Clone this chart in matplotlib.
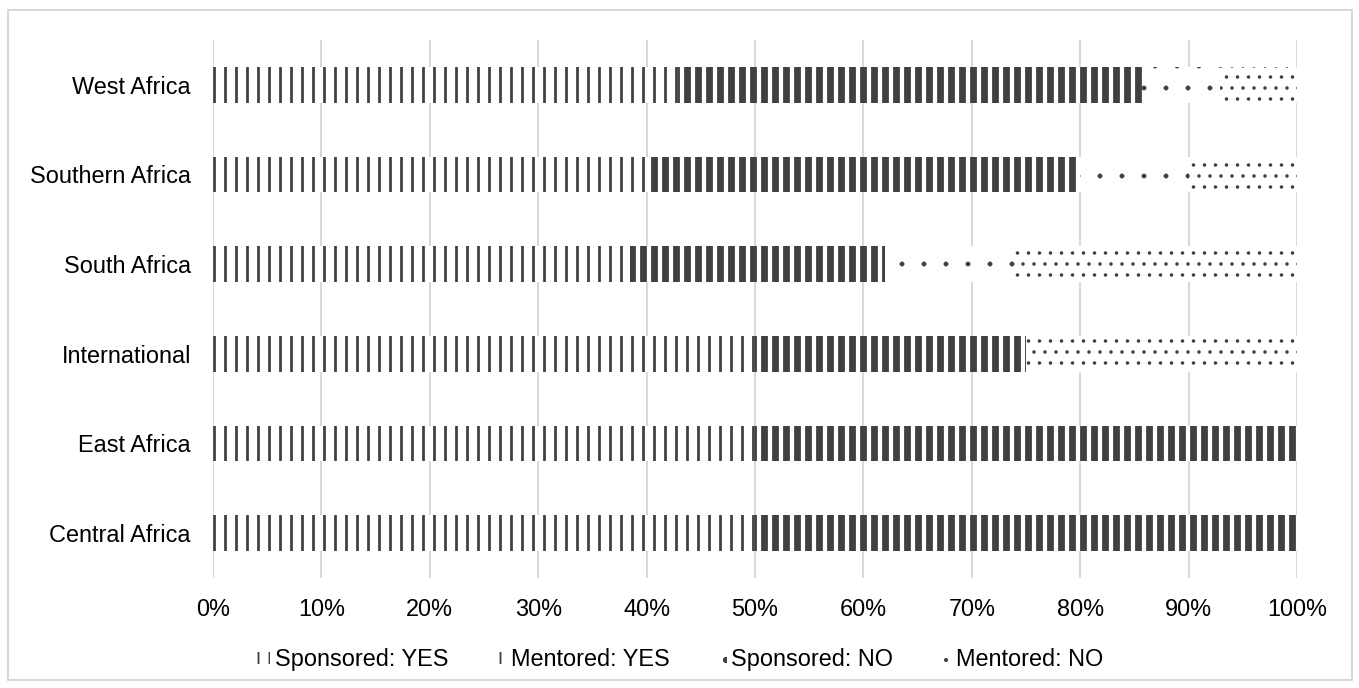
import matplotlib
matplotlib.use("Agg")
import matplotlib.pyplot as plt
from matplotlib.patches import Rectangle

plt.rcParams['font.family'] = ['Liberation Sans', 'DejaVu Sans']
plt.rcParams['font.size'] = 12.8

# regions, bottom to top
regions = ['Central Africa', 'East Africa', 'International',
           'South Africa', 'Southern Africa', 'West Africa']

# share of responses (%)
sponsored_yes = [50.0, 50.0, 50.0, 38.5, 40.0, 42.86]
mentored_yes = [50.0, 50.0, 25.0, 23.5, 40.0, 42.86]
sponsored_no = [0.0, 0.0, 0.0, 12.0, 10.0, 7.14]
mentored_no = [0.0, 0.0, 25.0, 26.0, 10.0, 7.14]

series_names = ['Sponsored: YES', 'Mentored: YES', 'Sponsored: NO', 'Mentored: NO']
xticks = [0, 10, 20, 30, 40, 50, 60, 70, 80, 90, 100]

DARK = '#404040'
GRID = '#d9d9d9'

fig = plt.figure(figsize=(1359 / 132, 688 / 132), dpi=132)
ax = fig.add_axes([0.1567, 0.1599, 0.7977, 0.782])

# hatch, hatch line width for each series
styles = [('||', 1.5), ('||', 3.7), ('.', 0.2), ('..', 0.7)]

left = [0.0] * len(regions)
for vals, name, (hatch, hlw) in zip(
        [sponsored_yes, mentored_yes, sponsored_no, mentored_no], series_names, styles):
    with plt.rc_context({'hatch.linewidth': hlw}):
        bars = ax.barh(range(len(regions)), vals, left=left, height=0.4,
                       color='white', edgecolor=DARK, linewidth=0,
                       hatch=hatch, label=name)
    for b in bars:
        if hasattr(b, 'set_hatch_linewidth'):
            b.set_hatch_linewidth(hlw)
    left = [l + v for l, v in zip(left, vals)]

ax.set_xlim(0, 100)
ax.set_ylim(-0.5, len(regions) - 0.5)
ax.set_yticks(range(len(regions)))
ax.set_yticklabels(regions)
ax.set_xticks(xticks)
ax.set_xticklabels([f'{t}%' for t in xticks])
ax.tick_params(axis='y', length=0, pad=12)
ax.tick_params(axis='x', length=0, pad=11)
for s in ax.spines.values():
    s.set_visible(False)
ax.set_axisbelow(True)
ax.xaxis.grid(True, color=GRID, linewidth=1.1)

ax.legend(loc='center', bbox_to_anchor=(0.5, 0.041), bbox_transform=fig.transFigure,
          ncol=4, frameon=False, handlelength=0.6, handleheight=0.45,
          handletextpad=0.2, columnspacing=1.85)

# chart border
fig.patches.append(Rectangle((8 / 1359, 8 / 688), 1344 / 1359, 670 / 688,
                             transform=fig.transFigure, fill=False,
                             edgecolor=GRID, linewidth=1.1))

fig.savefig('out.png', dpi=132)
